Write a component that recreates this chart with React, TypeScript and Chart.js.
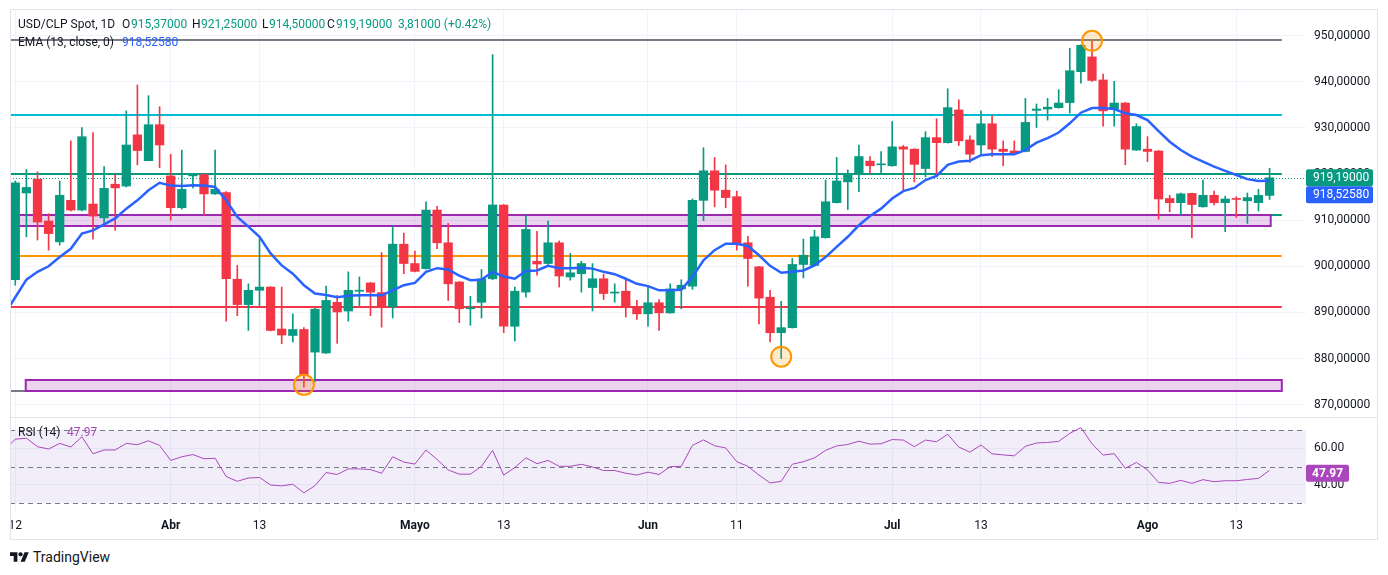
import React, { useEffect, useRef } from 'react';
import { Chart, registerables } from 'chart.js';

Chart.register(...registerables);
Chart.defaults.font.family = 'Roboto, "Noto Sans", sans-serif';
Chart.defaults.font.size = 12;
Chart.defaults.color = '#131722';

// daily candles, USD/CLP
const OPEN = [
  897.1, 915.9, 918.9, 909.8, 905.3, 914.3, 912.2, 913.5, 910.5, 917.8,
  917.4, 928.5, 922.9, 930.7, 919.6, 912.7, 919.6, 919.9, 915.7, 916.0,
  897.2, 891.7, 894.8, 895.5, 886.4, 885.0, 886.3, 881.4, 881.2, 892.2,
  890.3, 894.6, 896.4, 894.3, 891.2, 904.8, 900.6, 899.5, 912.2, 905.1,
  896.6, 890.8, 892.2, 897.3, 913.3, 887.0, 894.4, 901.1, 900.6, 905.1,
  897.7, 898.4, 895.4, 897.3, 894.2, 894.6, 891.3, 889.7, 892.1, 889.9,
  895.1, 895.7, 914.3, 920.7, 916.5, 915.1, 905.1, 899.9, 893.3, 885.6,
  886.7, 900.4, 900.2, 906.2, 913.8, 918.3, 920.1, 922.8, 922.0, 921.8,
  925.9, 925.4, 921.2, 927.9, 926.8, 933.9, 927.4, 926.3, 930.9, 925.4,
  925.0, 924.9, 933.8, 934.1, 934.4, 935.5, 942.2, 945.4, 940.4, 934.1,
  935.4, 925.2, 925.4, 925.0, 914.7, 913.8, 915.8, 912.9, 915.4, 913.8,
  914.6, 914.2, 913.8, 915.37,
];
const HIGH = [
  918.5, 921.0, 920.5, 911.4, 918.5, 927.2, 930.1, 929.0, 921.6, 919.9,
  933.7, 939.3, 937.0, 934.6, 924.3, 925.2, 920.1, 920.1, 925.2, 916.2,
  900.2, 896.2, 905.9, 895.6, 895.5, 889.7, 886.7, 890.9, 895.7, 893.7,
  898.8, 897.7, 896.5, 903.0, 908.6, 907.2, 903.3, 914.0, 913.0, 909.3,
  896.7, 893.5, 899.3, 945.9, 913.4, 895.5, 911.0, 907.6, 909.8, 905.5,
  902.8, 901.1, 900.6, 898.3, 896.2, 897.0, 892.6, 895.7, 892.8, 896.2,
  897.1, 914.6, 925.7, 923.6, 922.0, 916.3, 906.5, 900.0, 894.8, 892.4,
  901.7, 905.9, 907.8, 918.7, 923.6, 920.9, 926.3, 923.8, 924.9, 931.4,
  926.2, 925.5, 929.2, 932.0, 938.5, 936.1, 928.3, 933.7, 932.7, 927.2,
  927.2, 936.4, 935.2, 936.4, 938.3, 947.3, 948.0, 948.8, 941.7, 940.1,
  935.5, 930.9, 928.1, 925.1, 915.4, 915.9, 915.9, 918.7, 916.3, 915.2,
  915.1, 915.9, 916.7, 921.25,
];
const LOW = [
  895.9, 906.4, 905.7, 903.5, 904.6, 912.0, 912.0, 905.9, 909.3, 907.8,
  917.2, 922.0, 922.9, 921.4, 910.0, 912.4, 917.0, 911.1, 915.6, 888.1,
  889.3, 886.1, 891.5, 886.0, 883.2, 883.6, 873.8, 875.0, 881.1, 883.3,
  888.1, 891.5, 889.3, 886.8, 888.8, 898.4, 898.8, 899.4, 903.8, 892.6,
  887.8, 887.2, 888.8, 897.1, 885.6, 883.8, 893.3, 898.1, 900.4, 895.5,
  897.0, 894.4, 890.3, 892.8, 892.2, 889.0, 888.5, 887.0, 886.1, 889.8,
  890.8, 895.0, 909.9, 912.9, 912.7, 903.5, 895.7, 887.5, 883.6, 880.0,
  886.6, 897.5, 900.1, 906.1, 913.7, 912.3, 916.2, 920.1, 920.1, 921.7,
  916.5, 918.3, 919.4, 919.4, 926.7, 926.2, 922.5, 924.1, 923.8, 921.8,
  924.4, 924.8, 930.1, 931.7, 934.3, 933.2, 939.7, 940.1, 930.4, 930.4,
  922.0, 925.1, 922.7, 910.2, 911.8, 911.2, 906.2, 912.8, 913.3, 907.5,
  910.6, 909.3, 912.0, 914.5,
];
const CLOSE = [
  918.1, 917.1, 909.6, 907.1, 915.4, 912.2, 928.1, 910.9, 916.9, 917.0,
  926.3, 925.1, 930.7, 926.3, 912.7, 916.7, 919.9, 915.7, 916.7, 897.3,
  891.7, 894.8, 895.5, 886.1, 885.1, 886.3, 876.3, 890.7, 892.6, 890.1,
  894.8, 894.8, 894.4, 891.2, 904.8, 900.6, 898.9, 912.2, 905.1, 896.2,
  890.8, 891.0, 897.3, 913.3, 887.0, 894.6, 908.0, 900.5, 905.1, 897.9,
  898.6, 900.6, 897.3, 894.1, 894.4, 891.2, 889.7, 892.1, 889.9, 895.1,
  895.9, 914.3, 920.7, 916.5, 914.9, 904.9, 901.7, 893.1, 885.6, 886.7,
  900.4, 902.4, 906.4, 914.0, 918.5, 920.0, 923.8, 921.8, 922.2, 925.9,
  925.4, 922.1, 927.9, 926.8, 934.4, 927.2, 924.3, 930.9, 925.4, 924.9,
  924.5, 931.2, 934.1, 934.5, 935.4, 942.4, 947.9, 940.3, 933.7, 935.4,
  925.4, 930.3, 924.9, 914.6, 913.8, 915.7, 913.4, 915.4, 913.8, 914.6,
  914.5, 914.9, 915.38, 919.19,
];

// EMA(13); first value sits on the pane's left edge
const EMA = [
  891.5,
  893.3, 897.1, 898.8, 900.0, 902.0, 903.8, 907.1, 907.8, 909.1, 910.4,
  912.5, 914.3, 916.5, 918.1, 917.5, 917.4, 917.6, 917.5, 917.2, 914.3,
  910.7, 908.6, 906.4, 902.8, 900.2, 898.4, 895.9, 894.1, 893.8, 893.3,
  893.6, 893.7, 893.7, 893.7, 894.8, 895.9, 896.4, 898.8, 899.6, 899.3,
  898.0, 897.0, 897.1, 898.8, 897.8, 897.3, 899.0, 899.1, 900.1, 899.6,
  899.6, 899.7, 899.5, 898.8, 898.3, 897.3, 896.2, 895.7, 894.8, 894.8,
  894.9, 897.7, 901.3, 903.5, 904.9, 904.9, 904.4, 902.4, 900.1, 898.6,
  898.8, 899.1, 900.2, 902.0, 904.2, 906.4, 908.9, 910.9, 912.5, 914.7,
  916.3, 917.0, 918.7, 919.6, 922.0, 922.7, 922.9, 924.1, 924.3, 924.3,
  924.3, 925.2, 926.8, 927.8, 929.0, 931.0, 933.3, 934.3, 934.3, 934.1,
  933.2, 932.8, 931.7, 929.3, 927.0, 925.2, 923.8, 922.7, 921.6, 920.7,
  919.8, 918.9, 918.5, 918.5258,
];

// RSI(14), same layout as EMA
const RSI = [
  62.0,
  65.0, 65.5, 60.9, 59.6, 62.7, 60.7, 66.3, 57.0, 59.1, 59.1,
  62.7, 62.0, 64.1, 61.6, 53.4, 55.4, 56.6, 54.3, 54.6, 44.6,
  42.0, 43.8, 44.1, 40.0, 39.5, 40.4, 35.7, 39.6, 46.8, 45.7,
  48.8, 48.8, 48.4, 46.4, 55.4, 52.5, 51.4, 59.1, 53.9, 48.2,
  45.9, 45.9, 50.2, 58.9, 45.4, 49.5, 54.8, 51.6, 53.4, 50.2,
  50.2, 51.3, 49.8, 47.9, 47.9, 46.4, 45.4, 47.0, 45.7, 50.0,
  50.2, 61.6, 64.6, 61.4, 60.2, 52.7, 50.2, 45.4, 41.1, 42.0,
  51.3, 52.7, 54.8, 58.9, 61.3, 62.1, 63.9, 62.3, 62.5, 64.8,
  64.5, 60.9, 64.5, 63.6, 67.7, 60.7, 57.9, 61.8, 57.0, 56.4,
  55.9, 61.1, 62.9, 63.2, 63.8, 68.2, 71.3, 62.5, 56.3, 57.1,
  49.1, 52.3, 48.2, 41.4, 40.9, 42.5, 40.9, 42.9, 41.8, 42.3,
  42.3, 43.0, 43.6, 47.97,
];

const TICK_IDX = [0, 14, 22, 36, 44, 57, 65, 79, 87, 102, 110];
const TICK_TEXT = ['12', 'Abr', '13', 'Mayo', '13', 'Jun', '11', 'Jul', '13', 'Ago', '13'];
const MONTHS = ['Abr', 'Mayo', 'Jun', 'Jul', 'Ago'];
const PRICE_TICKS = [870, 880, 890, 900, 910, 920, 930, 940, 950];
const RSI_TICKS = [40, 60];
const RSI_BANDS = [70, 50, 30];

// drawn levels and zones
const LEVEL_PRICES = [949.1, 932.8, 920.1, 911.1, 902.2, 891.2, 873.0];
const ZONE_LOW = [908.7, 873.0];
const ZONE_HIGH = [911.1, 875.4];
const MARK_IDX = [26, 69, 97];
const MARK_PRICE = [874.3, 880.4, 948.9];

const GREEN = '#089981';
const RED = '#f23645';
const BLUE = '#2962ff';
const PURPLE = '#ab47bc';
const GRID = '#f0f3fa';
const LEVEL_COLORS = ['#787b86', '#00bcd4', GREEN, GREEN, '#ff9800', RED, '#787b86'];
const ZONE_FROM = [-2, 0.94];
const ZONE_TO = [113.1, 114.1];
const LEVEL_TO = 114.1;

const X_MIN = -0.477;
const X_MAX = 116.28;
const N = CLOSE.length;
const LAST = N - 1;

const fmt5 = (v: number) => v.toFixed(5).replace('.', ',');
const edgeX = (i: number) => (i === 0 ? X_MIN : i - 1);
const candleColor = OPEN.map((o, i) => (CLOSE[i] >= o ? GREEN : RED));

const xTicks = (s: any) => { s.ticks = TICK_IDX.map(v => ({ value: v })); };
// no label overhang padding: the panes fill their boxes exactly
const noPad = (s: any) => { s.paddingLeft = 0; s.paddingRight = 0; s.paddingTop = 0; s.paddingBottom = 0; };

const priceDrawings = {
  id: 'priceDrawings',
  beforeDatasetsDraw(chart: any) {
    const { ctx, chartArea: a, scales: { x, y } } = chart;
    ctx.save();
    ctx.beginPath();
    ctx.rect(a.left, a.top, a.width, a.height);
    ctx.clip();
    LEVEL_PRICES.forEach((p, k) => {
      const py = Math.round(y.getPixelForValue(p));
      ctx.strokeStyle = LEVEL_COLORS[k];
      ctx.lineWidth = 2;
      ctx.beginPath();
      ctx.moveTo(a.left, py);
      ctx.lineTo(x.getPixelForValue(LEVEL_TO), py);
      ctx.stroke();
    });
    ZONE_LOW.forEach((lo, k) => {
      const x0 = x.getPixelForValue(ZONE_FROM[k]);
      const x1 = x.getPixelForValue(ZONE_TO[k]);
      const y0 = Math.round(y.getPixelForValue(ZONE_HIGH[k]));
      const y1 = Math.round(y.getPixelForValue(lo));
      ctx.fillStyle = 'rgba(156,39,176,0.2)';
      ctx.fillRect(x0, y0, x1 - x0, y1 - y0);
      ctx.strokeStyle = '#9c27b0';
      ctx.lineWidth = 2;
      ctx.strokeRect(x0, y0, x1 - x0, y1 - y0);
    });
    // last price dotted line
    const cy = Math.round(y.getPixelForValue(CLOSE[LAST])) + 0.5;
    ctx.strokeStyle = GREEN;
    ctx.lineWidth = 1;
    ctx.setLineDash([1, 2]);
    ctx.beginPath();
    ctx.moveTo(a.left, cy);
    ctx.lineTo(a.right, cy);
    ctx.stroke();
    ctx.restore();
  },
  afterDraw(chart: any) {
    const { ctx, chartArea: a, scales: { y } } = chart;
    const tag = (yc: number, text: string, bg: string) => {
      ctx.fillStyle = bg;
      ctx.beginPath();
      ctx.roundRect(a.right, yc - 8.5, 67, 17, 2);
      ctx.fill();
      ctx.fillStyle = '#fff';
      ctx.font = '12px Roboto, "Noto Sans", sans-serif';
      ctx.textBaseline = 'middle';
      ctx.textAlign = 'left';
      ctx.fillText(text, a.right + 7, yc + 0.5);
    };
    const gy = y.getPixelForValue(CLOSE[LAST]);
    tag(gy, fmt5(CLOSE[LAST]), GREEN);
    tag(gy + 17, fmt5(EMA[EMA.length - 1]), BLUE);
  },
};

const rsiDrawings = {
  id: 'rsiDrawings',
  beforeDatasetsDraw(chart: any) {
    const { ctx, chartArea: a, scales: { y } } = chart;
    const top = y.getPixelForValue(RSI_BANDS[0]);
    const bot = y.getPixelForValue(RSI_BANDS[2]);
    ctx.save();
    ctx.fillStyle = 'rgba(126,87,194,0.1)';
    ctx.fillRect(a.left, top, a.width, bot - top);
    ctx.strokeStyle = '#787b86';
    ctx.lineWidth = 1;
    ctx.setLineDash([5, 4]);
    RSI_BANDS.forEach(v => {
      const py = Math.round(y.getPixelForValue(v)) + 0.5;
      ctx.beginPath();
      ctx.moveTo(a.left, py);
      ctx.lineTo(a.right, py);
      ctx.stroke();
    });
    ctx.restore();
  },
  afterDraw(chart: any) {
    const { ctx, chartArea: a, scales: { y } } = chart;
    const v = RSI[RSI.length - 1];
    const yc = y.getPixelForValue(v) + 3;
    ctx.save();
    ctx.fillStyle = PURPLE;
    ctx.beginPath();
    ctx.roundRect(a.right, yc - 8.5, 43, 17, 2);
    ctx.fill();
    ctx.fillStyle = '#fff';
    ctx.font = 'bold 12px Roboto, "Noto Sans", sans-serif';
    ctx.textBaseline = 'middle';
    ctx.fillText(v.toFixed(2), a.right + 6, yc + 0.5);
    ctx.restore();
  },
};

function PriceChart() {
  const ref = useRef<HTMLCanvasElement>(null);
  useEffect(() => {
    if (!ref.current) return;
    const idx = CLOSE.map((_, i) => i);
    const chart = new Chart(ref.current, {
      type: 'bar',
      data: {
        datasets: [
          {
            type: 'line',
            data: EMA.map((v, i) => ({ x: edgeX(i), y: v })),
            borderColor: BLUE,
            borderWidth: 2.5,
            pointRadius: 0,
            tension: 0,
            order: 1,
          } as any,
          {
            type: 'line',
            data: MARK_IDX.map((v, i) => ({ x: v, y: MARK_PRICE[i] })),
            showLine: false,
            pointRadius: 10,
            borderWidth: 2,
            borderColor: '#ff9800',
            backgroundColor: 'rgba(255,152,0,0.2)',
            order: 0,
          },
          {
            data: idx.map(i => ({ x: i, y: [LOW[i], HIGH[i]] })),
            backgroundColor: candleColor,
            barThickness: 1,
            grouped: false,
            order: 3,
          },
          {
            data: idx.map(i => ({ x: i, y: [OPEN[i], CLOSE[i]] })),
            backgroundColor: candleColor,
            barThickness: 8.6,
            minBarLength: 1,
            grouped: false,
            order: 2,
          },
        ] as any,
      },
      options: {
        animation: false,
        responsive: true,
        maintainAspectRatio: false,
        events: [],
        layout: { padding: 0, autoPadding: false },
        plugins: { legend: { display: false }, tooltip: { enabled: false } },
        scales: {
          x: {
            type: 'linear',
            min: X_MIN,
            max: X_MAX,
            offset: false,
            grid: { color: GRID, drawTicks: false, offset: false },
            border: { display: false },
            ticks: { display: false },
            afterBuildTicks: xTicks,
            afterFit: (s: any) => { s.height = 0; noPad(s); },
          },
          y: {
            position: 'right',
            min: 867.33,
            max: 955.57,
            grid: { color: GRID, drawTicks: false },
            border: { display: false },
            ticks: { padding: 8, callback: (v: any) => fmt5(Number(v)) },
            afterBuildTicks: (s: any) => { s.ticks = PRICE_TICKS.map(v => ({ value: v })); },
            afterFit: (s: any) => { s.width = 72; noPad(s); },
          },
        },
      } as any,
      plugins: [priceDrawings],
    });
    return () => chart.destroy();
  }, []);
  return <canvas ref={ref} />;
}

function RsiChart() {
  const ref = useRef<HTMLCanvasElement>(null);
  useEffect(() => {
    if (!ref.current) return;
    const chart = new Chart(ref.current, {
      type: 'line',
      data: {
        datasets: [{
          data: RSI.map((v, i) => ({ x: edgeX(i), y: v })),
          borderColor: PURPLE,
          borderWidth: 1,
          pointRadius: 0,
          tension: 0,
        }],
      },
      options: {
        animation: false,
        responsive: true,
        maintainAspectRatio: false,
        events: [],
        layout: { padding: 0, autoPadding: false },
        plugins: { legend: { display: false }, tooltip: { enabled: false } },
        scales: {
          x: {
            type: 'linear',
            min: X_MIN,
            max: X_MAX,
            grid: { color: GRID, drawTicks: false },
            border: { display: false },
            ticks: {
              padding: 7,
              autoSkip: false,
              maxRotation: 0,
              color: '#131722',
              callback: (v: any) => {
                const k = TICK_IDX.indexOf(Number(v));
                return k >= 0 ? TICK_TEXT[k] : '';
              },
              font: (c: any) => {
                const k = TICK_IDX.indexOf(c.tick?.value);
                return { size: 12, weight: k >= 0 && MONTHS.includes(TICK_TEXT[k]) ? 'bold' : 'normal' };
              },
            },
            afterBuildTicks: xTicks,
            afterFit: (s: any) => { s.height = 27; noPad(s); },
          },
          y: {
            position: 'right',
            min: 25.25,
            max: 76.55,
            grid: { color: GRID, drawTicks: false },
            border: { display: false },
            ticks: { padding: 8, callback: (v: any) => Number(v).toFixed(2) },
            afterBuildTicks: (s: any) => { s.ticks = RSI_TICKS.map(v => ({ value: v })); },
            afterFit: (s: any) => { s.width = 72; noPad(s); },
          },
        },
      } as any,
      plugins: [rsiDrawings],
    });
    return () => chart.destroy();
  }, []);
  return <canvas ref={ref} />;
}

const abs = (left: number, top: number, extra: React.CSSProperties = {}): React.CSSProperties => ({
  position: 'absolute', left, top, ...extra,
});

function Txt({ x, y, color = '#131722', size = 12, weight = 400, children }: any) {
  return (
    <span style={abs(x, y - 8, { color, fontSize: size, fontWeight: weight, lineHeight: '16px', whiteSpace: 'nowrap' })}>
      {children}
    </span>
  );
}

export default function App() {
  const chg = CLOSE[LAST] - CLOSE[LAST - 1];
  const pct = (chg / CLOSE[LAST - 1]) * 100;
  return (
    <div style={abs(0, 0, { width: 1388, height: 575, background: '#fff', fontFamily: 'Roboto, "Noto Sans", sans-serif', overflow: 'hidden' })}>
      <div style={abs(10, 10, { width: 1368, height: 407 })}><PriceChart /></div>
      <div style={abs(10, 418, { width: 1368, height: 121 })}><RsiChart /></div>

      {/* frame and pane separator */}
      <div style={abs(10, 9, { width: 1366, height: 529, border: '1px solid #e0e3eb' })} />
      <div style={abs(10, 417, { width: 1368, height: 1, background: '#e0e3eb' })} />

      {/* legends */}
      <Txt x={18} y={24}>USD/CLP Spot, 1D</Txt>
      <Txt x={122} y={24}>O</Txt><Txt x={131} y={24} color={GREEN}>{fmt5(OPEN[LAST])}</Txt>
      <Txt x={192} y={24}>H</Txt><Txt x={201} y={24} color={GREEN}>{fmt5(HIGH[LAST])}</Txt>
      <Txt x={262} y={24}>L</Txt><Txt x={269} y={24} color={GREEN}>{fmt5(LOW[LAST])}</Txt>
      <Txt x={327} y={24}>C</Txt><Txt x={336} y={24} color={GREEN}>{fmt5(CLOSE[LAST])}</Txt>
      <Txt x={398} y={24} color={GREEN}>{fmt5(chg)} (+{pct.toFixed(2)}%)</Txt>
      <Txt x={18} y={42}>EMA (13, close, 0)</Txt>
      <Txt x={122} y={42} color={BLUE}>{fmt5(EMA[EMA.length - 1])}</Txt>
      <Txt x={18} y={432}>RSI (14)</Txt>
      <Txt x={67} y={432} color={PURPLE}>{RSI[RSI.length - 1].toFixed(2)}</Txt>

      {/* footer */}
      <svg style={abs(10, 550)} width={19} height={15} viewBox="0 0 36 28">
        <path d="M14 22H7V11H0V4h14v18zM28 22h-8l7.5-18h8L28 22z" fill="#131722" />
        <circle cx="20" cy="8" r="4" fill="#131722" />
      </svg>
      <Txt x={33} y={557} size={14}>TradingView</Txt>
    </div>
  );
}
